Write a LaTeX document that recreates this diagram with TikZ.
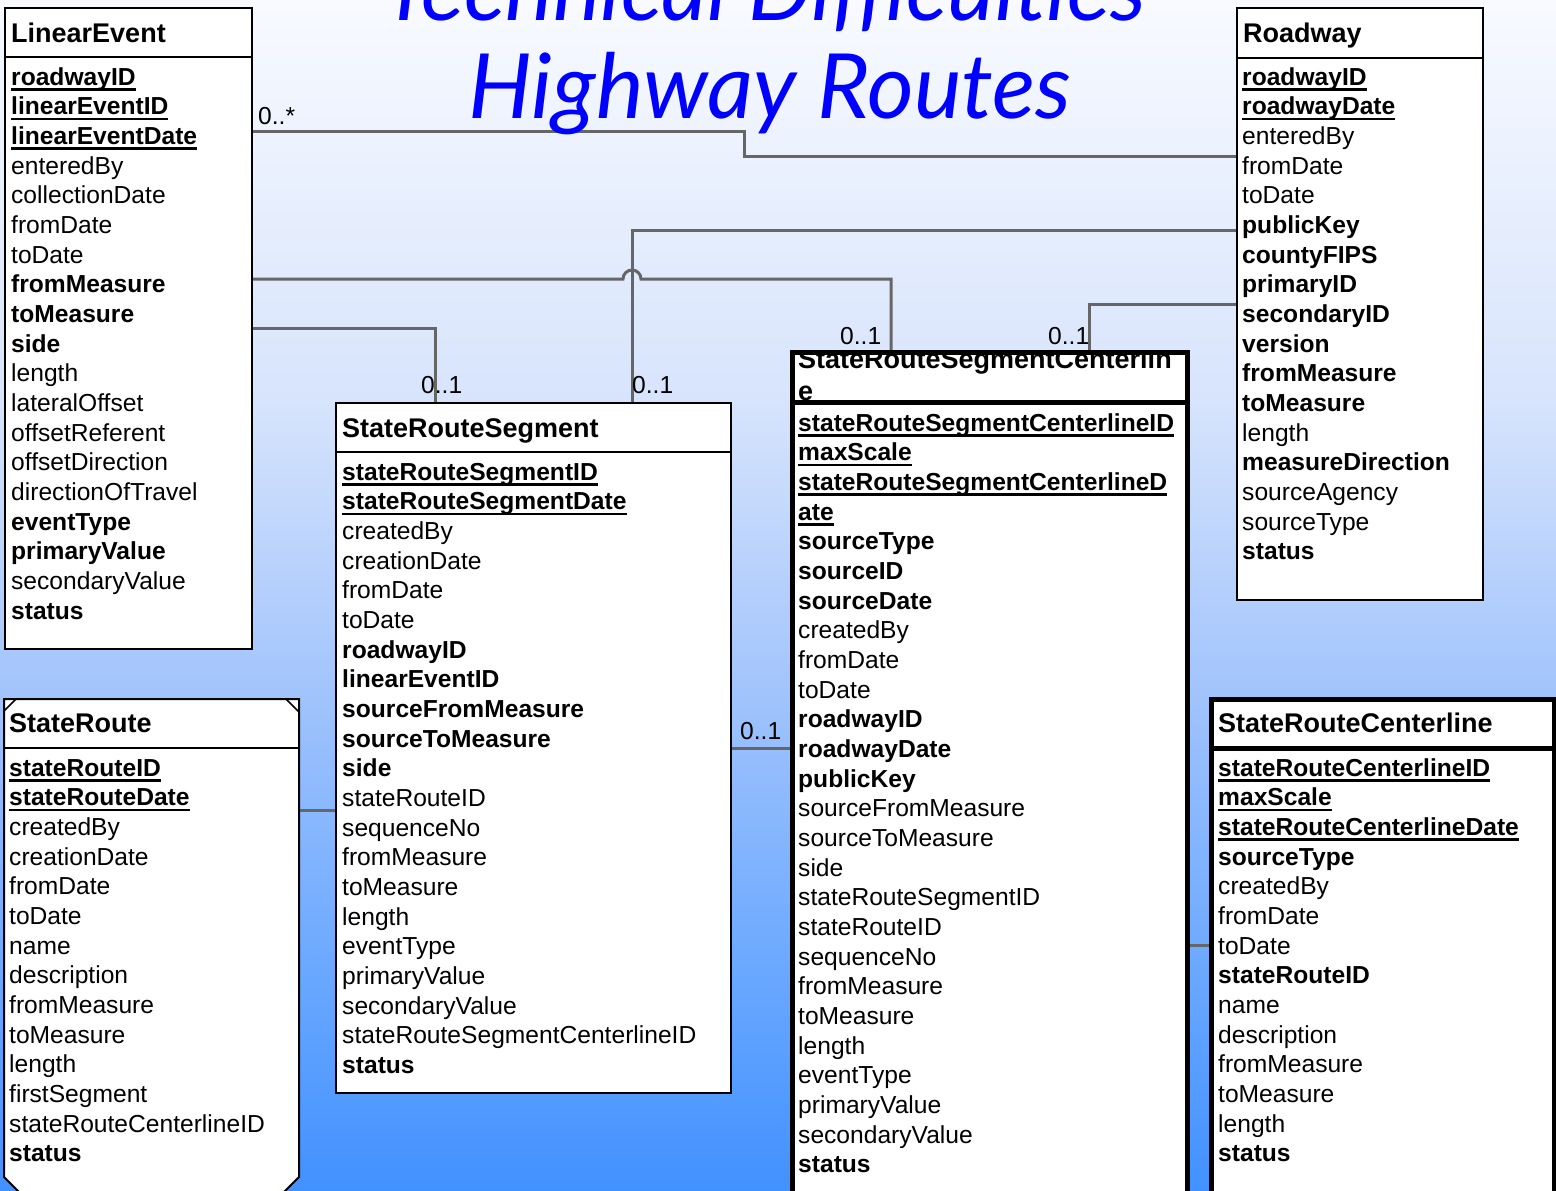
\documentclass[tikz,border=0pt]{standalone}
\usepackage{fontspec}
\setmainfont{Liberation Sans}
\newfontfamily\titlefont{Lato}
\usetikzlibrary{calc}

\definecolor{linkgray}{RGB}{102,102,102}
\definecolor{titleblue}{RGB}{0,0,255}
\definecolor{skyA}{RGB}{248,250,255}
\definecolor{skyB}{RGB}{215,228,252}
\definecolor{skyC}{RGB}{160,195,252}
\definecolor{skyD}{RGB}{100,165,255}
\definecolor{skyE}{RGB}{65,145,255}
\pgfdeclareverticalshading{skyfade}{100bp}{color(0bp)=(skyE); color(25bp)=(skyE); color(33bp)=(skyD); color(45.6bp)=(skyC); color(58.2bp)=(skyB); color(75bp)=(skyA); color(100bp)=(skyA)}

\pgfdeclarelayer{sky}
\pgfdeclarelayer{wires}
\pgfsetlayers{sky,wires,main}

% key attributes: bold and underlined
\newsavebox\pkbox
\newcommand\pk[1]{\sbox\pkbox{\bfseries #1}\rlap{\vrule height -3pt depth 5.5pt width \wd\pkbox}\usebox\pkbox}
\newcommand\rowfont{\fontsize{24.6pt}{29.67pt}\selectfont}
\newcommand\hdrfont{\fontsize{27pt}{32pt}\selectfont\bfseries}
\newcommand\bigtitlefont{\titlefont\itshape\fontsize{90pt}{100pt}\selectfont}

\tikzset{
  classbox/.style={draw=black, line width=2pt, fill=white, inner sep=0pt, outer sep=0pt, anchor=north west},
  heavybox/.style={classbox, line width=5pt},
  attr/.style={inner sep=0pt, anchor=base west, font=\rowfont},
  classname/.style={inner sep=0pt, anchor=base west, font=\hdrfont},
  link/.style={draw=linkgray, line width=3pt},
  mult/.style={inner sep=0pt, anchor=base west, font=\rowfont},
  headline/.style={text=titleblue, inner sep=0pt, anchor=base, font=\bigtitlefont},
}

\begin{document}
\begin{tikzpicture}[x=1pt, y=-1pt]
\useasboundingbox (0,0) rectangle (1556,1191);
\clip (0,0) rectangle (1556,1191);

\begin{pgfonlayer}{sky}
  \shade[shading=skyfade] (0,0) rectangle (1556,1191);
\end{pgfonlayer}

% ---------- class boxes ----------
% LinearEvent
\node[classbox, minimum width=247pt, minimum height=641pt] (le) at (5,8) {};
\draw[line width=2pt] ($(le.north west)+(0,49)$) -- ($(le.north east)+(0,49)$);
\node[classname] (le-name) at (11,42) {LinearEvent};
\foreach \t [count=\i] in {\pk{roadwayID}, \pk{linearEventID}, \pk{linearEventDate}, enteredBy, collectionDate, fromDate, toDate, \textbf{fromMeasure}, \textbf{toMeasure}, \textbf{side}, length, lateralOffset, offsetReferent, offsetDirection, directionOfTravel, \textbf{eventType}, \textbf{primaryValue}, secondaryValue, \textbf{status}}
  \node[attr] (le-\i) at (11,{85+(\i-1)*29.67}) {\t};

% Roadway
\node[classbox, minimum width=246pt, minimum height=592pt] (rw) at (1237,8) {};
\draw[line width=2pt] ($(rw.north west)+(0,50)$) -- ($(rw.north east)+(0,50)$);
\node[classname] (rw-name) at (1243,42) {Roadway};
\foreach \t [count=\i] in {\pk{roadwayID}, \pk{roadwayDate}, enteredBy, fromDate, toDate, \textbf{publicKey}, \textbf{countyFIPS}, \textbf{primaryID}, \textbf{secondaryID}, \textbf{version}, \textbf{fromMeasure}, \textbf{toMeasure}, length, \textbf{measureDirection}, sourceAgency, sourceType, \textbf{status}}
  \node[attr] (rw-\i) at (1242,{85+(\i-1)*29.67}) {\t};

% StateRouteSegment
\node[classbox, minimum width=395pt, minimum height=690pt] (srs) at (336,403) {};
\draw[line width=2pt] ($(srs.north west)+(0,49)$) -- ($(srs.north east)+(0,49)$);
\node[classname] (srs-name) at (342,437) {StateRouteSegment};
\foreach \t [count=\i] in {\pk{stateRouteSegmentID}, \pk{stateRouteSegmentDate}, createdBy, creationDate, fromDate, toDate, \textbf{roadwayID}, \textbf{linearEventID}, \textbf{sourceFromMeasure}, \textbf{sourceToMeasure}, \textbf{side}, stateRouteID, sequenceNo, fromMeasure, toMeasure, length, eventType, primaryValue, secondaryValue, stateRouteSegmentCenterlineID, \textbf{status}}
  \node[attr] (srs-\i) at (342,{480+(\i-1)*29.67}) {\t};

% StateRouteSegmentCenterline
\node[heavybox, minimum width=395pt, minimum height=850pt] (srsc) at (792,352) {};
\begin{scope}
  \clip (794.5,354.5) rectangle (1184.5,402);
  \node[classname] (srsc-name) at (798,368) {StateRouteSegmentCenterlin};
  \node[classname] (srsc-name2) at (798,400) {e};
\end{scope}
\draw[line width=5pt] ($(srsc.north west)+(0,50)$) -- ($(srsc.north east)+(0,50)$);
\foreach \t [count=\i] in {\pk{stateRouteSegmentCenterlineID}, \pk{maxScale}, \pk{stateRouteSegmentCenterlineD}, \pk{ate}, \textbf{sourceType}, \textbf{sourceID}, \textbf{sourceDate}, createdBy, fromDate, toDate, \textbf{roadwayID}, \textbf{roadwayDate}, \textbf{publicKey}, sourceFromMeasure, sourceToMeasure, side, stateRouteSegmentID, stateRouteID, sequenceNo, fromMeasure, toMeasure, length, eventType, primaryValue, secondaryValue, \textbf{status}}
  \node[attr] (srsc-\i) at (798,{431+(\i-1)*29.67}) {\t};

% StateRoute (multi-object box with cut corners)
\node[inner sep=0pt, outer sep=0pt, minimum width=295pt, minimum height=494pt, anchor=north west] (sr) at (4,699) {};
\filldraw[fill=white, draw=black, line width=2pt]
  (sr.north west) -- ($(sr.south west)+(0,-16)$) -- ($(sr.south west)+(16,0)$)
  -- ($(sr.south east)+(-16,0)$) -- ($(sr.south east)+(0,-16)$) -- (sr.north east) -- cycle;
\draw[line width=1.5pt] ($(sr.north west)+(0,12)$) -- ($(sr.north west)+(12,0)$);
\draw[line width=1.5pt] ($(sr.north east)+(-13,0)$) -- ($(sr.north east)+(0,13)$);
\draw[line width=2pt] ($(sr.north west)+(0,49)$) -- ($(sr.north east)+(0,49)$);
\node[classname] (sr-name) at (9,732) {StateRoute};
\foreach \t [count=\i] in {\pk{stateRouteID}, \pk{stateRouteDate}, createdBy, creationDate, fromDate, toDate, name, description, fromMeasure, toMeasure, length, firstSegment, stateRouteCenterlineID, \textbf{status}}
  \node[attr] (sr-\i) at (9,{776+(\i-1)*29.67}) {\t};

% StateRouteCenterline
\node[heavybox, minimum width=343pt, minimum height=500pt] (src) at (1211,699) {};
\draw[line width=5pt] ($(src.north west)+(0,49)$) -- ($(src.north east)+(0,49)$);
\node[classname] (src-name) at (1218,732) {StateRouteCenterline};
\foreach \t [count=\i] in {\pk{stateRouteCenterlineID}, \pk{maxScale}, \pk{stateRouteCenterlineDate}, \textbf{sourceType}, createdBy, fromDate, toDate, \textbf{stateRouteID}, name, description, fromMeasure, toMeasure, length, \textbf{status}}
  \node[attr] (src-\i) at (1218,{776+(\i-1)*29.67}) {\t};

% ---------- associations ----------
\begin{pgfonlayer}{wires}
  \draw[link] ($(le.north east)+(0,123)$) -- ++(492,0) |- ($(rw.north west)+(0,148)$);
  \draw[link] ($(rw.north west)+(0,222)$) -| ($(srs.north west)+(296,0)$);
  \draw[link] ($(le.north east)+(0,271)$) -- ++(371,0)
    arc[start angle=180, end angle=0, radius=9pt] -| ($(srsc.north west)+(99,0)$);
  \draw[link] ($(le.north east)+(0,320)$) -| ($(srs.north west)+(99,0)$);
  \draw[link] ($(rw.north west)+(0,296)$) -| ($(srsc.north west)+(297,0)$);
  \draw[link] ($(sr.north east)+(0,111)$) -- ($(srs.north west)+(0,407)$);
  \draw[link] ($(srs.north east)+(0,345)$) -- ($(srsc.north west)+(0,396)$);
  \draw[link] ($(srsc.north east)+(0,593)$) -- ($(src.north west)+(0,246)$);
\end{pgfonlayer}

% multiplicities
\node[mult] (m1) at (258,124) {0..*};
\node[mult] (m2) at (421,393) {0..1};
\node[mult] (m3) at (632,393) {0..1};
\node[mult] (m4) at (840,344) {0..1};
\node[mult] (m5) at (1048,344) {0..1};
\node[mult] (m6) at (740,739) {0..1};

% headline
\node[headline] (head1) at (764,20) {Technical Difficulties};
\node[headline] (head2) at (770,118) {Highway Routes};
\end{tikzpicture}
\end{document}
